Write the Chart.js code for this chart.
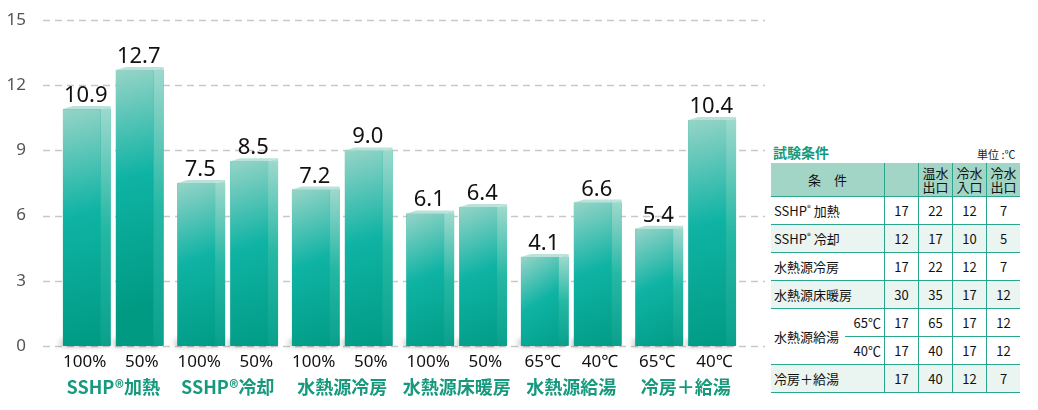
<!DOCTYPE html>
<html>
<head>
<meta charset="utf-8">
<script src="https://cdn.jsdelivr.net/npm/chart.js@4.4.1/dist/chart.umd.min.js"></script>
<style>
  body { margin: 0; background: #fff; font-family: "Noto Sans", "Noto Sans CJK JP", sans-serif; }
  #wrap { position: absolute; left: 0; top: 0; width: 770px; height: 410px; }
  #title { position: absolute; left: 773px; top: 142px; font: bold 14px "Noto Sans CJK JP"; color: #16997c; }
  #unit { position: absolute; left: 977px; top: 146px; font: 11px "Noto Sans CJK JP"; color: #222; }
  table { position: absolute; left: 771px; top: 163px; border-collapse: collapse; font: 13px "Noto Sans CJK JP"; color: #111; }
  td { padding: 0; height: 27px; border-bottom: 1.5px solid #2aa68c; text-align: center; }
  td.v { border-left: 1.5px solid #2aa68c; width: 33px; }
  td.name { text-align: left; padding-left: 3px; }
  td.temp { text-align: right; padding-right: 3px; }
  tr.head td { background: #a3d5c7; height: 33px; line-height: 14px; }
  tr.alt td { background: #eaf4f0; }
  sup { font-size: 8px; }
</style>
</head>
<body>
<div id="wrap"><canvas id="chart" width="770" height="410"></canvas></div>
<div id="title">試験条件</div>
<div id="unit">単位 :℃</div>
<table id="cond"></table>
<script>
// chart values
const groups = ["SSHP®加熱", "SSHP®冷却", "水熱源冷房", "水熱源床暖房", "水熱源給湯", "冷房＋給湯"];
const subLabels = ["100%", "50%", "100%", "50%", "100%", "50%", "100%", "50%", "65℃", "40℃", "65℃", "40℃"];
const firstValues = [10.9, 7.5, 7.2, 6.1, 4.1, 5.4];
const secondValues = [12.7, 8.5, 9.0, 6.4, 6.6, 10.4];
const yTicks = [0, 3, 6, 9, 12, 15];

// table values
const headCols = ["", "温水<br>出口", "冷水<br>入口", "冷水<br>出口"];
const condNames = ["SSHP<sup>®</sup> 加熱", "SSHP<sup>®</sup> 冷却", "水熱源冷房", "水熱源床暖房", "水熱源給湯", "水熱源給湯", "冷房＋給湯"];
const condTemps = ["", "", "", "", "65℃", "40℃", ""];
const condValues = [
  [17, 22, 12, 7],
  [12, 17, 10, 5],
  [17, 22, 12, 7],
  [30, 35, 17, 12],
  [17, 65, 17, 12],
  [17, 40, 17, 12],
  [17, 40, 12, 7]
];
const altRows = [1, 3, 6];

function buildTable() {
  let html = '<tr class="head"><td colspan="2" style="width:113px">条　件</td>';
  headCols.forEach(h => (html += '<td class="v">' + h + "</td>"));
  html += "</tr>";
  condValues.forEach((vals, i) => {
    html += '<tr class="' + (altRows.includes(i) ? "alt" : "") + '">';
    if (condTemps[i] === "") {
      html += '<td class="name" colspan="2">' + condNames[i] + "</td>";
    } else if (i === 0 || condNames[i - 1] !== condNames[i]) {
      html += '<td class="name" rowspan="2" style="width:71px">' + condNames[i] + '</td><td class="temp">' + condTemps[i] + "</td>";
    } else {
      html += '<td class="temp">' + condTemps[i] + "</td>";
    }
    vals.forEach(v => (html += '<td class="v">' + v + "</td>"));
    html += "</tr>";
  });
  document.getElementById("cond").innerHTML = html;
}
buildTable();

// dashed grid lines that run a bit past the plot area
const gridLines = {
  id: "gridLines",
  beforeDatasetsDraw(chart) {
    const ctx = chart.ctx;
    const y = chart.scales.y;
    ctx.save();
    ctx.strokeStyle = "#c8c8c8";
    ctx.lineWidth = 1.5;
    ctx.setLineDash([7, 5]);
    yTicks.forEach(t => {
      const py = Math.round(y.getPixelForValue(t)) + 0.5;
      ctx.beginPath();
      ctx.moveTo(chart.chartArea.left - 13, py);
      ctx.lineTo(chart.chartArea.right + 22, py);
      ctx.stroke();
    });
    ctx.restore();
  }
};

// side + top faces, gradient front, and value labels
const bars3d = {
  id: "bars3d",
  afterDatasetsDraw(chart) {
    const ctx = chart.ctx;
    const depth = 10, rise = 3;
    chart.data.datasets.forEach((ds, di) => {
      chart.getDatasetMeta(di).data.forEach((bar, i) => {
        const { x, y, base, width } = bar.getProps(["x", "y", "base", "width"], true);
        const left = x - width / 2;
        const right = x + width / 2;
        const front = right - depth;
        ctx.save();
        // base shadow
        ctx.shadowColor = "rgba(0,0,0,0.45)";
        ctx.shadowBlur = 6;
        ctx.shadowOffsetX = -4;
        ctx.fillStyle = "#00977f";
        ctx.fillRect(left + 2, base - 5, width - 4, 4);
        ctx.restore();

        const g = ctx.createLinearGradient(left, y, front + 20, Math.min(base, y + 230));
        g.addColorStop(0, "#96d4c7");
        g.addColorStop(0.45, "#0fb3a4");
        g.addColorStop(1, "#009a83");
        ctx.fillStyle = g;
        ctx.fillRect(left, y, front - left, base - y);

        const s = ctx.createLinearGradient(0, y, 0, base);
        s.addColorStop(0, "rgba(170,221,210,0.92)");
        s.addColorStop(0.5, "rgba(40,185,166,0.92)");
        s.addColorStop(1, "rgba(10,160,140,0.95)");
        ctx.fillStyle = s;
        ctx.beginPath();
        ctx.moveTo(front, y);
        ctx.lineTo(right, y - rise);
        ctx.lineTo(right, base - 2);
        ctx.quadraticCurveTo(right, base, right - 3, base);
        ctx.lineTo(front, base);
        ctx.closePath();
        ctx.fill();

        ctx.fillStyle = "#b9e3da";
        ctx.beginPath();
        ctx.moveTo(left, y);
        ctx.lineTo(left + depth, y - rise);
        ctx.lineTo(right, y - rise);
        ctx.lineTo(front, y);
        ctx.closePath();
        ctx.fill();

        ctx.fillStyle = "#111";
        ctx.font = '22px "Noto Sans"';
        ctx.textAlign = "center";
        ctx.textBaseline = "alphabetic";
        ctx.fillText(ds.data[i].toFixed(1), x - 1, y - 7);
      });
    });
  }
};

new Chart(document.getElementById("chart"), {
  type: "bar",
  data: {
    labels: groups,
    datasets: [
      { data: firstValues, xAxisID: "x", backgroundColor: "#00a994", categoryPercentage: 0.925, barPercentage: 0.9 },
      { data: secondValues, xAxisID: "x", backgroundColor: "#00a994", categoryPercentage: 0.925, barPercentage: 0.9 }
    ]
  },
  options: {
    responsive: false,
    animation: false,
    layout: { padding: { top: 20, right: 27, left: 0, bottom: 0 } },
    plugins: { legend: { display: false }, tooltip: { enabled: false } },
    scales: {
      y: {
        min: 0,
        max: 15,
        afterBuildTicks: scale => {
          scale.ticks = yTicks.map(v => ({ value: v }));
        },
        afterFit: scale => {
          scale.width = 56;
          scale.paddingTop = 10;
          scale.paddingBottom = 10;
        },
        grid: { display: false },
        border: { display: false },
        ticks: { padding: 22, color: "#555", font: { family: "Noto Sans", size: 17 } }
      },
      x: {
        position: "bottom",
        weight: 1,
        afterFit: scale => {
          scale.height = 38;
        },
        grid: { display: false, drawTicks: false },
        border: { display: false },
        ticks: { padding: 4, color: "#16997c", font: { family: "Noto Sans CJK JP", size: 18, weight: "bold" }, maxRotation: 0 }
      },
      x2: {
        type: "category",
        labels: subLabels,
        position: "bottom",
        weight: 0,
        afterFit: scale => {
          scale.height = 26;
        },
        grid: { display: false, drawTicks: false },
        border: { display: false },
        ticks: { padding: 6, color: "#111", font: { family: "Noto Sans", size: 17 }, maxRotation: 0, autoSkip: false }
      }
    }
  },
  plugins: [gridLines, bars3d]
});
</script>
</body>
</html>
